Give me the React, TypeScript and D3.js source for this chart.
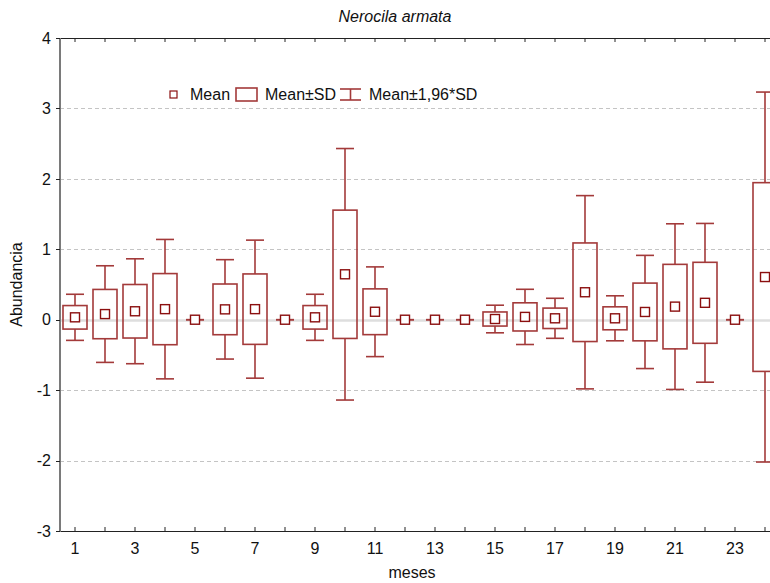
import React from "react";
import * as d3 from "d3";

// Monthly abundance of Nerocila armata: mean and standard deviation per month
const months = d3.range(1, 25);
const means = [
  0.034, 0.08, 0.12, 0.15, 0, 0.147, 0.15, 0, 0.034, 0.645, 0.113, 0, 0, 0, 0.01, 0.04,
  0.02, 0.39, 0.02, 0.11, 0.186, 0.24, 0, 0.606,
];
const sds = [
  0.167, 0.35, 0.38, 0.505, 0, 0.36, 0.5, 0, 0.167, 0.911, 0.325, 0, 0, 0, 0.1, 0.2,
  0.145, 0.7, 0.163, 0.41, 0.6, 0.575, 0, 1.34,
];
const yTicks = [-3, -2, -1, 0, 1, 2, 3, 4];
const xTickLabels = [1, 3, 5, 7, 9, 11, 13, 15, 17, 19, 21, 23];

const W = 770;
const H = 583;
const left = 60;
const top = 38;
const bottom = 531;
const right = 780;

const FONT = "'Liberation Sans', Arial, sans-serif";
const FS = 16;
const LINE = "#a33a3a";
const DARK = "#8b0f0f";

export default function App() {
  const x = d3.scaleLinear().domain([0.5, 24.5]).range([left, right]);
  const y = d3.scaleLinear().domain([-3, 4]).range([bottom, top]);
  const step = x(2) - x(1);
  const boxW = step * 0.8;
  const capW = step * 0.6;
  const mk = 9;

  return (
    <svg
      width={W}
      height={H}
      style={{ position: "absolute", left: 0, top: 0, background: "#fff" }}
      fontFamily={FONT}
    >
      <rect x={0} y={0} width={W} height={H} fill="#fff" />
      {/* grid */}
      {yTicks
        .filter((t) => t !== 4 && t !== -3)
        .map((t) => (
          <line
            key={"g" + t}
            x1={left}
            x2={W}
            y1={Math.round(y(t)) + 0.5}
            y2={Math.round(y(t)) + 0.5}
            stroke={t === 0 ? "#dedede" : "#c4c4c4"}
            strokeWidth={t === 0 ? 2.5 : 1}
            strokeDasharray={t === 0 ? undefined : "4,3"}
          />
        ))}

      {/* boxes and whiskers */}
      {months.map((m, i) => {
        const cx = x(m);
        const mu = means[i];
        const sd = sds[i];
        const hiSD = y(mu + sd);
        const loSD = y(mu - sd);
        const hiW = y(mu + 1.96 * sd);
        const loW = y(mu - 1.96 * sd);
        return (
          <g key={m}>
            <line x1={cx} x2={cx} y1={hiW} y2={hiSD} stroke={LINE} strokeWidth={1.6} />
            <line x1={cx} x2={cx} y1={loSD} y2={loW} stroke={LINE} strokeWidth={1.6} />
            <line x1={cx - capW / 2} x2={cx + capW / 2} y1={hiW} y2={hiW} stroke={LINE} strokeWidth={1.6} />
            <line x1={cx - capW / 2} x2={cx + capW / 2} y1={loW} y2={loW} stroke={LINE} strokeWidth={1.6} />
            <rect
              x={cx - boxW / 2}
              y={hiSD}
              width={boxW}
              height={Math.max(0, loSD - hiSD)}
              fill="none"
              stroke={LINE}
              strokeWidth={1.6}
            />
            <rect
              x={cx - mk / 2}
              y={y(mu) - mk / 2}
              width={mk}
              height={mk}
              fill="#fff"
              stroke={DARK}
              strokeWidth={1.4}
            />
          </g>
        );
      })}

      {/* frame: top and bottom axes with inward ticks */}
      <line x1={left} x2={W} y1={top + 0.5} y2={top + 0.5} stroke="#222" strokeWidth={1} />
      <line x1={left} x2={W} y1={bottom + 0.5} y2={bottom + 0.5} stroke="#222" strokeWidth={1} />
      {months.map((m) => (
        <g key={"t" + m}>
          <line x1={x(m)} x2={x(m)} y1={top} y2={top + 4} stroke="#222" strokeWidth={1} />
          <line x1={x(m)} x2={x(m)} y1={bottom} y2={bottom - 4} stroke="#222" strokeWidth={1} />
        </g>
      ))}
      <line x1={left} x2={left} y1={top} y2={bottom + 1} stroke="#7a7a7a" strokeWidth={2} />
      {yTicks.map((t) => (
        <g key={"y" + t}>
          <line x1={left - 4} x2={left} y1={Math.round(y(t)) + 0.5} y2={Math.round(y(t)) + 0.5} stroke="#222" />
          <text x={51} y={y(t)} dy="0.36em" textAnchor="end" fontSize={FS} fill="#111">
            {t}
          </text>
        </g>
      ))}
      {xTickLabels.map((t) => (
        <text key={"x" + t} x={x(t)} y={554} textAnchor="middle" fontSize={FS} fill="#111">
          {t}
        </text>
      ))}

      {/* titles */}
      <text x={395} y={22} textAnchor="middle" fontSize={FS} fontStyle="italic" fill="#111">
        Nerocila armata
      </text>
      <text x={412} y={578} textAnchor="middle" fontSize={FS} fill="#111">
        meses
      </text>
      <text
        transform={`translate(22,${(top + bottom) / 2}) rotate(-90)`}
        textAnchor="middle"
        fontSize={FS}
        fill="#111"
      >
        Abundancia
      </text>

      {/* legend */}
      <g>
        <rect x={170} y={91} width={7} height={7} fill="#fff" stroke={DARK} strokeWidth={1.2} />
        <text x={190} y={100} fontSize={FS} fill="#111">Mean</text>
        <rect x={236} y={88} width={21} height={13} fill="none" stroke={LINE} strokeWidth={1.6} />
        <text x={265} y={100} fontSize={FS} fill="#111">Mean±SD</text>
        <line x1={340} x2={361} y1={89} y2={89} stroke={LINE} strokeWidth={1.6} />
        <line x1={350.5} x2={350.5} y1={89} y2={100} stroke={LINE} strokeWidth={1.6} />
        <line x1={340} x2={361} y1={100} y2={100} stroke={LINE} strokeWidth={1.6} />
        <text x={369} y={100} fontSize={FS} fill="#111">Mean±1,96*SD</text>
      </g>
    </svg>
  );
}
